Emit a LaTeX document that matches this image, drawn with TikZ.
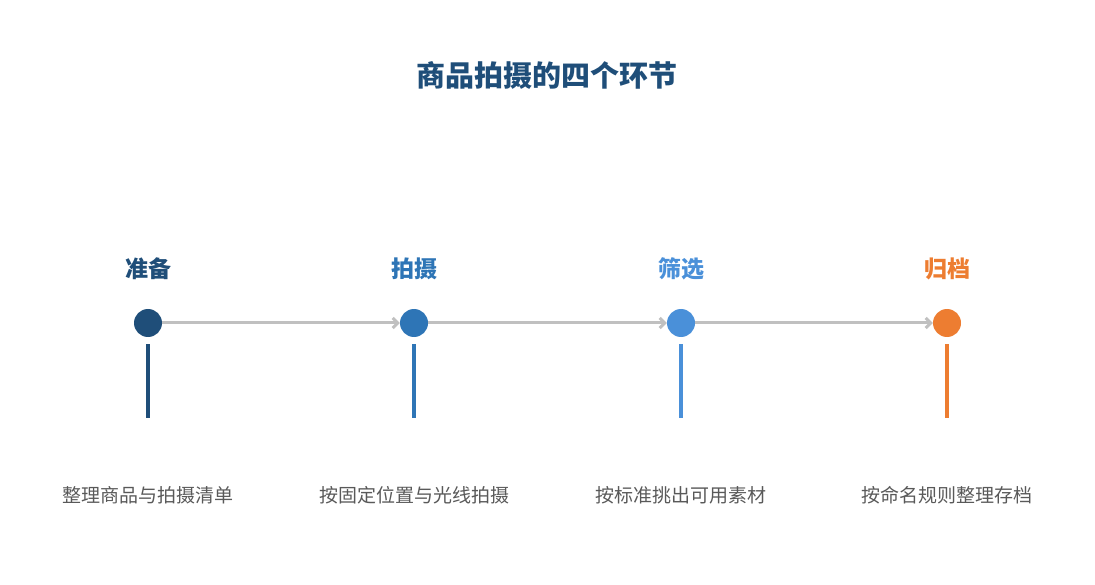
\documentclass[tikz,border=0pt]{standalone}
\usepackage{fontspec}
\setmainfont{Noto Sans CJK SC}
\usetikzlibrary{arrows.meta}
\definecolor{prepc}{HTML}{1F4E79}
\definecolor{shootc}{HTML}{2E75B6}
\definecolor{pickc}{HTML}{4A90D9}
\definecolor{filec}{HTML}{ED7D31}
\definecolor{linkc}{HTML}{C0C0C0}
\definecolor{descc}{HTML}{595959}
\tikzstyle{stepdot}=[shape=circle,minimum size=28pt,inner sep=0,fill]
\tikzstyle{steplabel}=[font=\fontsize{23}{28}\selectfont\bfseries,inner sep=0]
\tikzstyle{stepdesc}=[font=\fontsize{19}{23}\selectfont,text=descc,inner sep=0]
\tikzstyle{stembar}=[line width=4pt]
\tikzstyle{link}=[line width=3pt,draw=linkc,-{Straight Barb[length=5pt,width=10pt]}]
\begin{document}
\begin{tikzpicture}[x=1pt,y=-1pt]
\useasboundingbox (0,0) rectangle (1095,585);
\node[font=\fontsize{29}{35}\selectfont\bfseries,text=prepc] (title) at (547,75) {商品拍摄的四个环节};
\foreach \i/\x/\c/\lab/\desc in {1/148/prepc/准备/整理商品与拍摄清单,2/414/shootc/拍摄/按固定位置与光线拍摄,3/681/pickc/筛选/按标准挑出可用素材,4/947/filec/归档/按命名规则整理存档}{
	\node[steplabel,text=\c] (lab\i) at (\x,269) {\lab};
	\node[stepdot,\c] (d\i) at (\x,323) {};
	\coordinate (top\i) at (\x,344);
	\coordinate (bot\i) at (\x,418);
	\draw[stembar,\c] (top\i)--(bot\i);
	\node[stepdesc] (desc\i) at (\x,495) {\desc};
	}
\foreach \a/\b in {1/2,2/3,3/4}
	\draw[link] (d\a)--(d\b);
\end{tikzpicture}
\end{document}
